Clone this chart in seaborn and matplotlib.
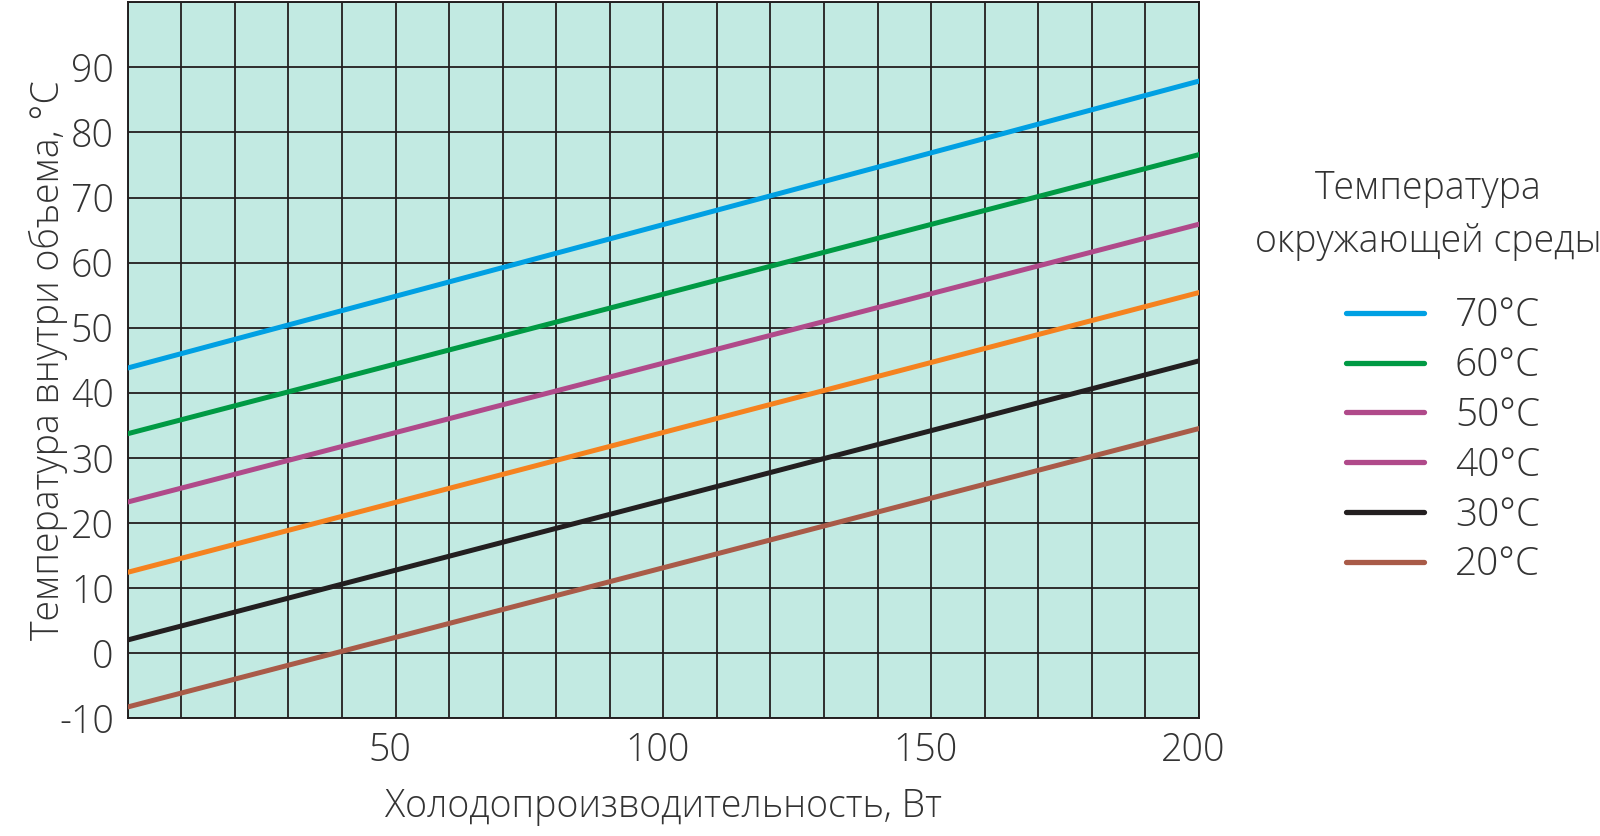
import matplotlib
matplotlib.use("Agg")
import matplotlib.pyplot as plt
import matplotlib.transforms as mtransforms
from matplotlib.lines import Line2D
import seaborn as sns
import pandas as pd

# ---- data ----
power = [0, 200]                      # Холодопроизводительность, Вт
t70 = [43.8, 87.9]
t60 = [33.7, 76.6]
t50 = [23.2, 65.9]
t40 = [12.4, 55.4]
t30 = [2.0, 44.9]
t20 = [-8.3, 34.5]
series_labels = ["70°C", "60°C", "50°C", "40°C", "30°C", "20°C"]
line_colors = ["#00a0e3", "#009a44", "#b04a8a", "#f5821f", "#231f20", "#a95b48"]
legend_colors = ["#00a0e3", "#009a44", "#b04a8a", "#b04a8a", "#231f20", "#a95b48"]
x_ticks = list(range(0, 201, 10))
y_ticks = list(range(-10, 101, 10))
x_label_values = [50, 100, 150, 200]
y_label_values = list(range(-10, 91, 10))

rows = []
for lab, vals in zip(series_labels, [t70, t60, t50, t40, t30, t20]):
    for p, v in zip(power, vals):
        rows.append({"power": p, "temp": v, "ambient": lab})
df = pd.DataFrame(rows)

sns.set_theme(style="white")
plt.rcParams["font.family"] = ["Open Sans", "DejaVu Sans"]
plt.rcParams["axes.unicode_minus"] = False
text_color = "#333333"

fig = plt.figure(figsize=(16, 8.36), dpi=100)
ax = fig.add_axes([0.0798, 0.1411, 0.6696, 0.8561])
ax.set_facecolor("#c2eae2")

sns.lineplot(data=df, x="power", y="temp", hue="ambient", hue_order=series_labels,
             palette=dict(zip(series_labels, line_colors)), linewidth=3.6,
             legend=False, ax=ax, zorder=3)

ax.set_xlim(0, 200)
ax.set_ylim(-10, 100)
ax.set_xticks(x_ticks)
ax.set_yticks(y_ticks)
ax.set_xticklabels([str(v) if v in x_label_values else "" for v in x_ticks])
ax.set_yticklabels([str(v) if v in y_label_values else "" for v in y_ticks])
ax.grid(True, color="#231f20", linewidth=1.3, zorder=1)
ax.set_axisbelow(True)
for s in ax.spines.values():
    s.set_color("#231f20")
    s.set_linewidth(1.4)
ax.tick_params(length=0, labelsize=27, colors=text_color, pad=10)
shift = mtransforms.ScaledTranslation(-6 / 100, 0, fig.dpi_scale_trans)
for t in ax.get_xticklabels():
    t.set_transform(t.get_transform() + shift)
for t in ax.get_xticklabels() + ax.get_yticklabels():
    t.set_fontweight("light")

ax.set_xlabel("Холодопроизводительность, Вт", fontsize=27, color=text_color,
              fontweight="light", labelpad=12)
ax.set_ylabel("Температура внутри объема, °C", fontsize=27, color=text_color,
              fontweight="light")
ax.yaxis.set_label_coords(-0.056, 0.5)

fig.text(1428 / 1600, 1 - 169 / 836, "Температура\nокружающей среды",
         ha="center", va="top", ma="center", fontsize=27, color=text_color,
         fontweight="light", linespacing=1.5)

handles = [Line2D([0], [0], color=c, lw=3.8) for c in legend_colors]
leg = fig.legend(handles, series_labels, loc="upper left",
                 bbox_to_anchor=(1346 / 1600, 1 - 297 / 836),
                 frameon=False, fontsize=28, handlelength=2.0, handletextpad=0.8,
                 labelspacing=0.29, borderaxespad=0, borderpad=0)
for t in leg.get_texts():
    t.set_color(text_color)
    t.set_fontweight("light")

fig.savefig("out.png", dpi=100)
